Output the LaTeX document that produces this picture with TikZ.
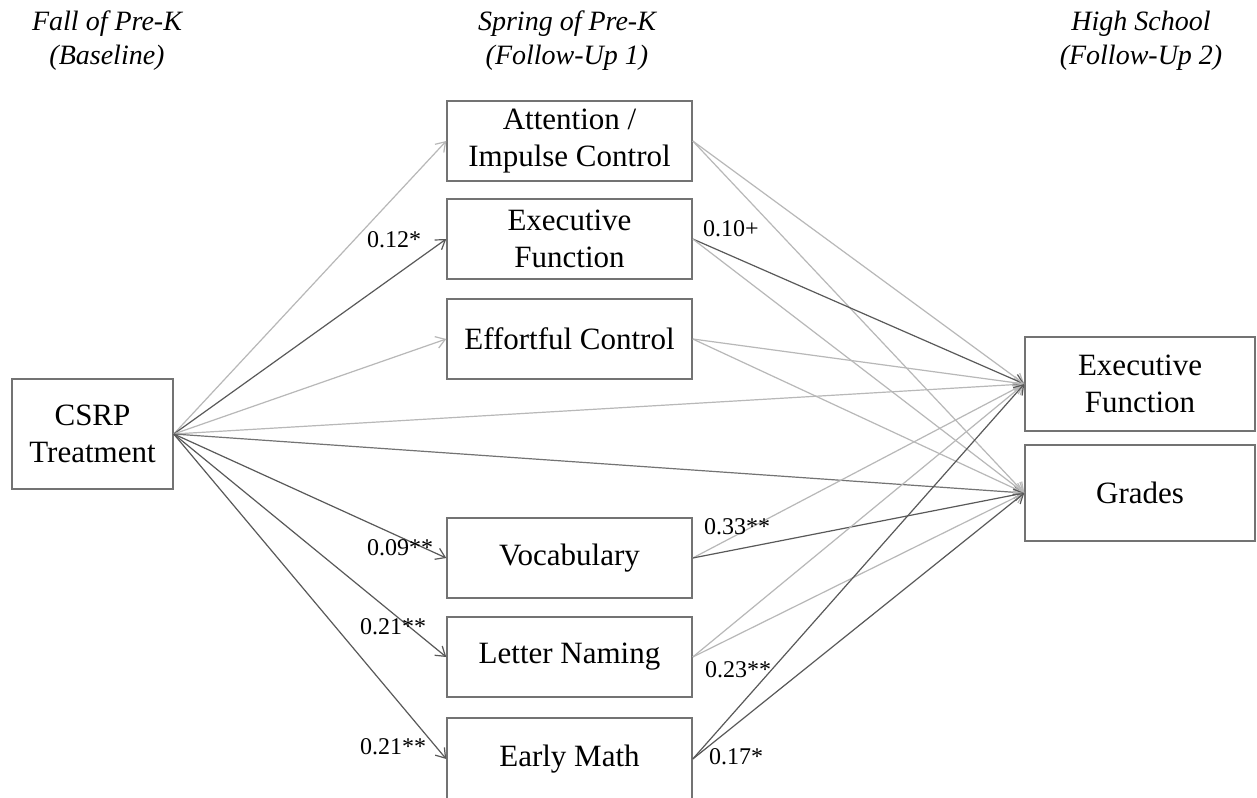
\documentclass[tikz,border=0pt]{standalone}
\usepackage{fontspec}
\setmainfont{Liberation Serif}
\usetikzlibrary{arrows.meta}
\definecolor{boxgray}{gray}{0.45}
\definecolor{lightln}{gray}{0.72}
\definecolor{darkln}{gray}{0.35}
\definecolor{midln}{gray}{0.45}
\tikzset{
  box/.style={draw=boxgray, line width=1.5pt, fill=white, inner sep=0pt, align=center,
    font=\fontsize{31}{37}\selectfont},
  midbox/.style={box, minimum width=245pt, minimum height=80pt},
  hdr/.style={align=center, font=\fontsize{28}{34}\selectfont\itshape},
  lbl/.style={font=\fontsize{24}{28}\selectfont, inner sep=0pt},
  conn/.style={line width=1.2pt, -{Straight Barb[length=9pt,width=12pt]}},
  weak/.style={conn, lightln},
  strong/.style={conn, darkln},
  medium/.style={conn, midln}
}
\begin{document}
\begin{tikzpicture}[x=1pt,y=-1pt]
\useasboundingbox (0,0) rectangle (1257,797);
\fill[white] (0,0) rectangle (1257,797);
% headers
\node[hdr] (h1) at (107,41) {Fall of Pre-K\\(Baseline)};
\node[hdr] (h2) at (567,41) {Spring of Pre-K\\(Follow-Up 1)};
\node[hdr] (h3) at (1141,41) {High School\\(Follow-Up 2)};
% boxes
\node[box, minimum width=161pt, minimum height=110pt] (csrp) at (92.5,434) {CSRP\\Treatment};
\node[midbox] (att) at (569.5,141) {Attention /\\Impulse Control};
\node[midbox] (ef1) at (569.5,239) {Executive\\Function};
\node[midbox] (eff) at (569.5,339) {Effortful Control};
\node[midbox] (voc) at (569.5,558) {Vocabulary};
\node[midbox] (ln) at (569.5,657) {Letter Naming};
\node[midbox, minimum height=82pt] (em) at (569.5,759) {Early Math};
\node[box, minimum width=230pt, minimum height=94pt] (ef2) at (1140,384) {Executive\\Function};
\node[box, minimum width=230pt, minimum height=96pt] (gr) at (1140,493) {Grades};
% connectors from CSRP
\draw[weak] (csrp.east) -- (att.west);
\draw[strong] (csrp.east) -- (ef1.west);
\draw[weak] (csrp.east) -- (eff.west);
\draw[weak] (csrp.east) -- (ef2.west);
\draw[medium] (csrp.east) -- (gr.west);
\draw[strong] (csrp.east) -- (voc.west);
\draw[strong] (csrp.east) -- (ln.west);
\draw[strong] (csrp.east) -- (em.west);
% connectors to outcomes
\draw[weak] (att.east) -- (ef2.west);
\draw[weak] (att.east) -- (gr.west);
\draw[strong] (ef1.east) -- (ef2.west);
\draw[weak] (ef1.east) -- (gr.west);
\draw[weak] (eff.east) -- (ef2.west);
\draw[weak] (eff.east) -- (gr.west);
\draw[weak] (voc.east) -- (ef2.west);
\draw[strong] (voc.east) -- (gr.west);
\draw[weak] (ln.east) -- (ef2.west);
\draw[weak] (ln.east) -- (gr.west);
\draw[strong] (em.east) -- (ef2.west);
\draw[strong] (em.east) -- (gr.west);
% labels
\node[lbl] (l1) at (394,240) {0.12*};
\node[lbl] (l2) at (731,229) {0.10+};
\node[lbl] (l3) at (400,548) {0.09**};
\node[lbl] (l4) at (737,527) {0.33**};
\node[lbl] (l5) at (393,627) {0.21**};
\node[lbl] (l6) at (393,747) {0.21**};
\node[lbl] (l7) at (738,670) {0.23**};
\node[lbl] (l8) at (736,757) {0.17*};
\end{tikzpicture}
\end{document}
